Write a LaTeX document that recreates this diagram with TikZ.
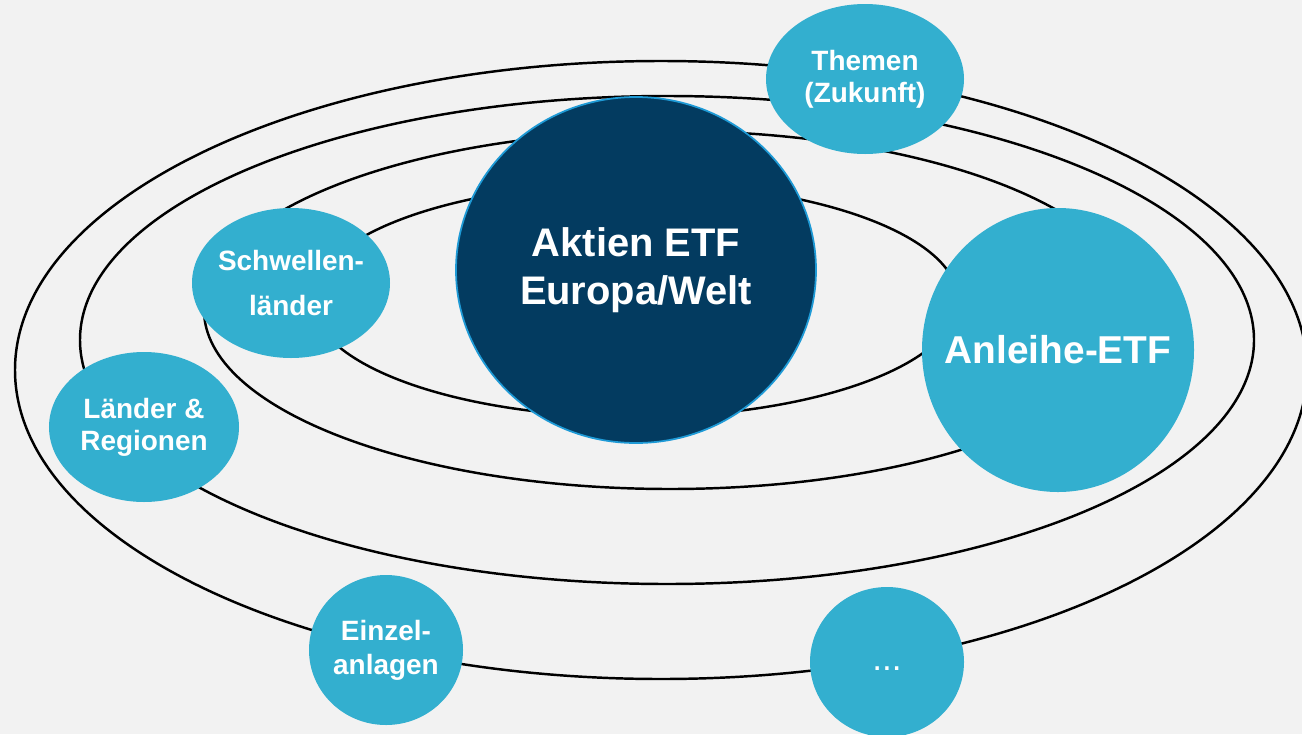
\documentclass[tikz,border=0pt]{standalone}
\usepackage{fontspec}
\setmainfont{Liberation Sans}
\usetikzlibrary{shapes.geometric}
\definecolor{fond}{HTML}{F2F2F2}
\definecolor{bleuclair}{HTML}{33AFCF}
\definecolor{bleunuit}{HTML}{033B60}
\definecolor{bleubord}{HTML}{1E9AD6}
\tikzset{
  orbite/.style={color=black,line width=1.4pt},
  planete/.style={ellipse,fill=bleuclair,inner sep=-20pt,text=white,align=center,
    font=\bfseries\fontsize{15.9}{18.1}\selectfont},
}
\begin{document}
\begin{tikzpicture}[x=0.2mm,y=-0.2mm] % 1 unite = 1 pixel
\fill[color=fond] (0,0) rectangle (1302,734); % le fond
\useasboundingbox (0,0) rectangle (1302,734);
\draw[orbite] (635,300) ellipse [x radius=323,y radius=117]; % orbite 1
\draw[orbite] (670,310) ellipse [x radius=466,y radius=179]; % orbite 2
\draw[orbite] (667,340) ellipse [x radius=587,y radius=244]; % orbite 3
\draw[orbite] (661,370) ellipse [x radius=646,y radius=309]; % orbite 4
\node[ellipse,fill=bleunuit,draw=bleubord,line width=1pt,inner sep=-20pt,text=white,align=center,
  font=\bfseries\fontsize{22.7}{27.2}\selectfont,minimum width=72mm,minimum height=69.2mm]
  (aktien) at (636,270) {Aktien ETF\\Europa/Welt}; % le centre
\node[planete,minimum width=39.6mm,minimum height=30mm] (themen) at (865,79) {Themen\\(Zukunft)};
\node[planete,minimum width=39.6mm,minimum height=30mm,font=\bfseries\fontsize{15.9}{26}\selectfont]
  (schwellen) at (291,283) {Schwellen-\\länder};
\node[planete,minimum width=38mm,minimum height=30mm] (laender) at (144,427) {Länder \&\\Regionen};
\node[planete,minimum width=54.4mm,minimum height=56.8mm,font=\bfseries\fontsize{22.1}{26}\selectfont]
  (anleihe) at (1058,350) {Anleihe-ETF};
\node[planete,minimum width=30.8mm,minimum height=30mm,font=\bfseries\fontsize{15.9}{19.3}\selectfont]
  (einzel) at (386,650) {Einzel-\\anlagen};
\node[planete,minimum width=30.8mm,minimum height=30mm,font=\fontsize{20}{24}\selectfont]
  (autres) at (887,662) {\strut...};
\end{tikzpicture}
\end{document}
